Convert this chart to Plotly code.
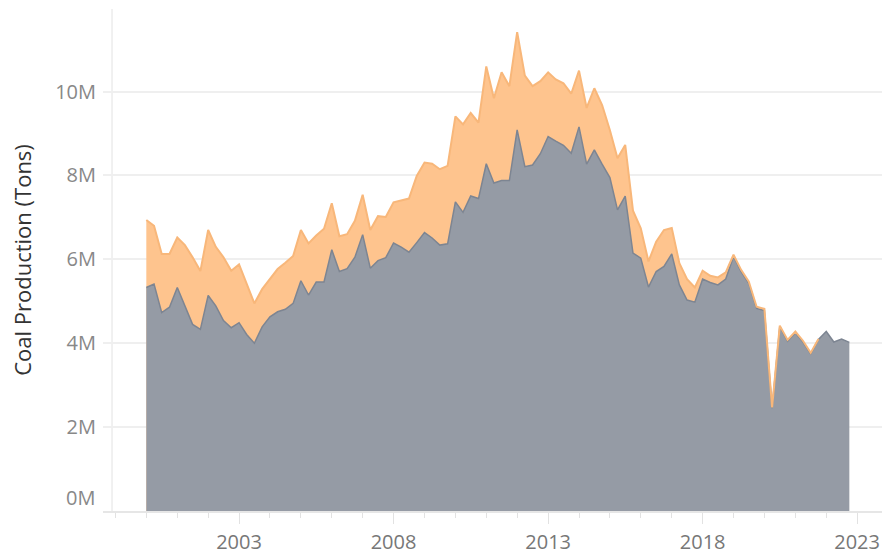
import numpy as np
import pandas as pd
import plotly.graph_objects as go

# Quarterly periods, 2000 Q1 .. 2022 Q4
quarters = pd.date_range("2000-01-01", "2022-10-01", freq="QS").strftime("%Y-%m-%d").tolist()

# Lower (grey) series, million tons
grey_series = [
    5.33, 5.41, 4.73, 4.86, 5.33, 4.89, 4.45, 4.33, 5.14, 4.89, 4.54, 4.37,
    4.49, 4.21, 4.00, 4.39, 4.63, 4.75, 4.81, 4.95, 5.49, 5.15, 5.46, 5.46,
    6.23, 5.71, 5.78, 6.05, 6.59, 5.79, 5.97, 6.04, 6.39, 6.29, 6.17, 6.40,
    6.64, 6.51, 6.34, 6.37, 7.37, 7.12, 7.51, 7.45, 8.28, 7.82, 7.88, 7.88,
    9.09, 8.21, 8.25, 8.52, 8.93, 8.82, 8.72, 8.53, 9.16, 8.27, 8.61, 8.27,
    7.95, 7.18, 7.51, 6.15, 6.03, 5.34, 5.71, 5.83, 6.13, 5.39, 5.03, 4.98,
    5.53, 5.45, 5.39, 5.53, 6.07, 5.71, 5.43, 4.83, 4.78, 2.45, 4.40, 4.05,
    4.25, 4.03, 3.75, 4.09, 4.28, 4.03, 4.10, 4.02,
]

# Upper (orange) series, million tons (reported through 2021 Q4)
orange_series = [
    1.61, 1.39, 1.40, 1.27, 1.19, 1.45, 1.60, 1.39, 1.56, 1.41, 1.51, 1.36,
    1.39, 1.22, 0.95, 0.90, 0.89, 1.02, 1.11, 1.13, 1.21, 1.23, 1.11, 1.27,
    1.11, 0.84, 0.82, 0.87, 0.95, 0.91, 1.06, 0.97, 0.97, 1.11, 1.28, 1.59,
    1.67, 1.77, 1.81, 1.86, 2.04, 2.10, 1.98, 1.81, 2.32, 2.02, 2.58, 2.25,
    2.33, 2.17, 1.88, 1.73, 1.53, 1.47, 1.48, 1.42, 1.34, 1.34, 1.47, 1.41,
    1.13, 1.23, 1.22, 1.01, 0.71, 0.61, 0.71, 0.87, 0.62, 0.52, 0.50, 0.35,
    0.20, 0.16, 0.18, 0.16, 0.04, 0.04, 0.04, 0.04, 0.04, 0.02, 0.02, 0.03,
    0.03, 0.03, 0.02, 0.01,
]

y_ticks = [2, 4, 6, 8, 10]
y_tick_labels = ["2M", "4M", "6M", "8M", "10M"]

grey = np.array(grey_series) * 1e6
orange = np.array(orange_series) * 1e6
n_or = len(orange)
total = grey[:n_or] + orange

GREY_FILL = "#959ba5"
GREY_LINE = "#7d8592"
ORANGE_FILL = "#fec48e"
ORANGE_LINE = "#f8b77a"
FONT = "Open Sans"

fig = go.Figure()
# stacked top (orange) area
fig.add_trace(go.Scatter(
    x=quarters[:n_or], y=total, mode="lines", line=dict(width=0, color=ORANGE_FILL),
    fill="tozeroy", fillcolor=ORANGE_FILL, hoverinfo="skip", showlegend=False))
# grey area
fig.add_trace(go.Scatter(
    x=quarters, y=grey, mode="lines", line=dict(width=1.5, color=GREY_LINE),
    fill="tozeroy", fillcolor=GREY_FILL, showlegend=False))
# orange outline on top
fig.add_trace(go.Scatter(
    x=quarters[:n_or], y=total, mode="lines", line=dict(width=2, color=ORANGE_LINE),
    hoverinfo="skip", showlegend=False))

fig.update_layout(
    width=882, height=557,
    margin=dict(l=103, r=0, t=9, b=46),
    plot_bgcolor="white", paper_bgcolor="white",
    font=dict(family=FONT, color="#777777"),
    xaxis=dict(
        type="date", automargin=False,
        range=["1998-08-07", "2023-10-22"],
        tick0="2003-01-01", dtick="M60", tickformat="%Y",
        ticks="outside", ticklen=11, tickcolor="#e2e2e2", tickwidth=1,
        minor=dict(dtick="M12", ticks="outside", ticklen=5, tickcolor="#e2e2e2", showgrid=False),
        showgrid=False, showline=True, linecolor="#e6e6e6", linewidth=1.5,
        tickfont=dict(size=20, color="#777777", family=FONT),
        ticklabelstandoff=1,
        zeroline=False,
    ),
    yaxis=dict(
        automargin=False,
        range=[0, 11.97e6],
        tickvals=[v * 1e6 for v in y_ticks], ticktext=y_tick_labels,
        showgrid=True, gridcolor="#efefef", gridwidth=1.5,
        zeroline=False, showline=False, ticks="",
        ticklabelstandoff=6,
        tickfont=dict(size=20, color="#888888", family=FONT),
        title=dict(text="Coal Production (Tons)", font=dict(size=22, color="#333333", family=FONT), standoff=17),
    ),
    shapes=[dict(type="line", xref="paper", yref="paper", x0=0.0116, x1=0.0116, y0=0, y1=1,
                 line=dict(color="#ececec", width=1.5), layer="below")],
    annotations=[dict(text="0M", xref="paper", yref="paper", x=0, y=0, xanchor="right",
                      yanchor="middle", xshift=-6, yshift=14, showarrow=False,
                      font=dict(size=20, color="#888888", family=FONT))],
)

fig.write_html(
    "out.html",
    config={"displayModeBar": False},
    post_script="document.body.style.margin='0';document.body.style.overflow='hidden';",
)
